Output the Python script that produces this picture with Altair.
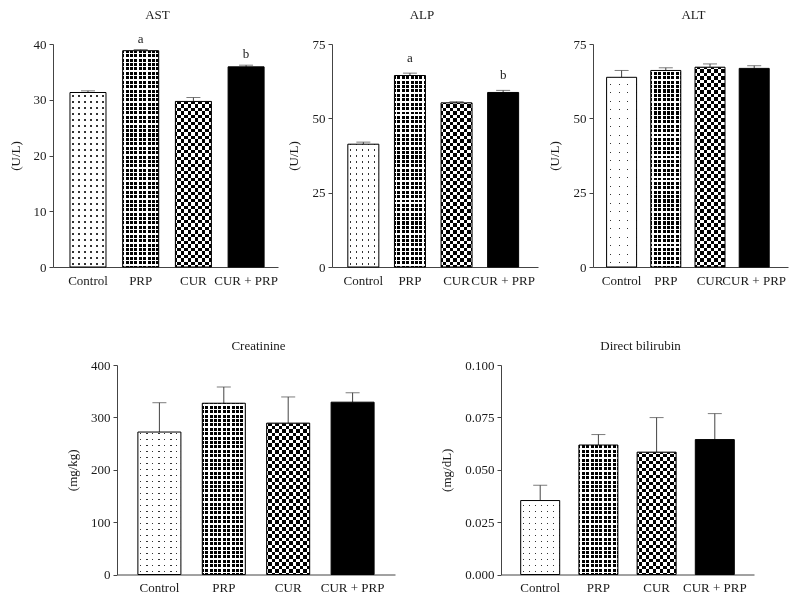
import altair as alt
import pandas as pd

# ---------------- data ----------------
groups = ["Control", "PRP", "CUR", "CUR + PRP"]

ast_mean = [31.3, 38.8, 29.7, 35.9]
ast_err = [0.3, 0.2, 0.7, 0.3]
ast_letters = ["", "a", "", "b"]

alp_mean = [41.3, 64.4, 55.2, 58.7]
alp_err = [0.7, 0.8, 0.4, 0.7]
alp_letters = ["", "a", "", "b"]

alt_mean = [63.8, 66.1, 67.2, 66.8]
alt_err = [2.3, 0.9, 1.1, 0.9]
alt_letters = ["", "", "", ""]

creat_mean = [272, 327, 289, 329]
creat_err = [56, 31, 50, 18]
creat_letters = ["", "", "", ""]

bili_mean = [0.0353, 0.0618, 0.0584, 0.0644]
bili_err = [0.0073, 0.0050, 0.0165, 0.0124]
bili_letters = ["", "", "", ""]

ast_ticks = [0, 10, 20, 30, 40]
alp_ticks = [0, 25, 50, 75]
alt_ticks = [0, 25, 50, 75]
creat_ticks = [0, 100, 200, 300, 400]
bili_ticks = [0, 0.025, 0.05, 0.075, 0.1]

# ---------------- style ----------------
FONT = "Liberation Serif"
TXT = "#1a1a1a"
AX = "#444444"
ERR = "#444444"
WHITE = "#ffffff"
BLACK = "#000000"
CLEAR = "rgba(255,255,255,0)"


def grad(length, period, on_w, on_col, off_col, along_x, from_end=False):
    ivs = []
    pos = 0.5 * (period - on_w)
    while pos < length:
        a = max(pos, 0.0)
        b = min(pos + on_w, length)
        if b > a:
            ivs.append((a, b))
        pos += period
    if from_end:
        ivs = sorted((length - b, length - a) for a, b in ivs)
    stops = [{"offset": 0, "color": off_col}]
    for a, b in ivs:
        a1 = round(a / length, 5)
        b1 = round(b / length, 5)
        stops += [
            {"offset": a1, "color": off_col},
            {"offset": a1, "color": on_col},
            {"offset": b1, "color": on_col},
            {"offset": b1, "color": off_col},
        ]
    stops.append({"offset": 1, "color": off_col})
    g = {"gradient": "linear", "stops": stops}
    if along_x:
        g.update(x1=0, y1=0, x2=1, y2=0)
    else:
        g.update(x1=0, y1=0, x2=0, y2=1)
    return g


def pattern(i, bw, h, dot):
    h = max(h, 1.0)
    if i == 0:  # sparse dots
        return [
            ("#333333", None),
            (grad(bw, dot, 1.2, CLEAR, WHITE, True), None),
            (grad(h, dot, 1.2, CLEAR, WHITE, False, True), None),
        ]
    if i == 1:  # dense grid: black squares, white lines
        return [
            (BLACK, None),
            (grad(bw, 4.4, 1.4, WHITE, CLEAR, True), None),
            (grad(h, 4.4, 1.4, WHITE, CLEAR, False, True), None),
        ]
    if i == 2:  # checkerboard
        return [
            (grad(bw, 7.0, 3.5, WHITE, BLACK, True), None),
            (grad(h, 7.0, 3.5, WHITE, BLACK, False, True), "difference"),
        ]
    return [(BLACK, None)]


ONE = pd.DataFrame({"v": [0]})


def panel(title, unit, means, errs, letters, ymax, ticks, fmt, W, H, bw, step,
          ext, letter_dy, title_dist, title_dx, dot=6.0, left_pad=None, align=0.5):
    n = len(groups)
    pi = 1 - bw / step
    po = (W / step - n + pi) / 2
    df = pd.DataFrame({
        "group": groups,
        "mean": means,
        "upper": [m + e for m, e in zip(means, errs)],
        "letter": letters,
    })
    xenc = alt.X(
        "group:N", sort=groups,
        scale=alt.Scale(paddingInner=pi, paddingOuter=po, align=align),
        axis=alt.Axis(title=None, labelAngle=0, ticks=False, labelPadding=17,
                      labelBaseline="alphabetic",
                      labelOverlap=False, domainColor=AX, domainWidth=1,
                      labelFont=FONT, labelFontSize=13, labelColor=TXT),
    )
    yscale = alt.Scale(domain=[0, ymax], nice=False, zero=True)
    yaxis = alt.Axis(title=unit, values=ticks, format=fmt, grid=False, tickSize=4,
                     tickColor=AX, domainColor=AX, domainWidth=1, labelPadding=3,
                     labelFont=FONT, labelFontSize=13, labelColor=TXT,
                     titleFont=FONT, titleFontSize=13, titleFontWeight="normal",
                     titleColor=TXT, titlePadding=0, minExtent=ext, maxExtent=ext)

    def Y(field):
        return alt.Y(field, scale=yscale, axis=yaxis)

    base = alt.Chart(df).encode(x=xenc)
    layers = [
        base.mark_rule(color=ERR, strokeWidth=1).encode(y=Y("mean:Q"), y2="upper:Q"),
        base.mark_tick(color=ERR, size=14, thickness=1).encode(y=Y("upper:Q")),
    ]
    for i, g in enumerate(groups):
        h = means[i] / ymax * H
        for fill, blend in pattern(i, bw, h, dot):
            kw = {"fill": fill}
            if blend:
                kw["blend"] = blend
            layers.append(
                base.transform_filter(alt.datum.group == g)
                .mark_bar(**kw)
                .encode(y=Y("mean:Q"))
            )
    layers.append(
        base.mark_bar(fillOpacity=0, stroke=BLACK, strokeWidth=1).encode(y=Y("mean:Q"))
    )
    layers.append(
        base.mark_text(font=FONT, fontSize=13, color=TXT, baseline="alphabetic",
                       dy=letter_dy).encode(y=Y("upper:Q"), text="letter:N")
    )
    # panel title as a single text mark above the plot area
    layers.append(
        alt.Chart(ONE).mark_text(font=FONT, fontSize=13, color=TXT,
                                 baseline="alphabetic", align="center").encode(
            x=alt.value(W / 2 + title_dx), y=alt.value(-title_dist),
            text=alt.value(title))
    )
    if left_pad is not None:
        layers.append(
            alt.Chart(ONE).mark_rule(color="transparent", strokeWidth=1).encode(
                x=alt.value(-left_pad), x2=alt.value(-left_pad + 1), y=alt.value(0))
        )
    return alt.layer(*layers).properties(width=W, height=H)


HT = 223
HB = 209.5

ast_p = panel("AST", "(U/L)", ast_mean, ast_err, ast_letters, 40, ast_ticks, "d",
              225, HT, 36, 52.7, 30.5, -7, 25, -8, align=0.55)
alp_p = panel("ALP", "(U/L)", alp_mean, alp_err, alp_letters, 75, alp_ticks, "d",
              206, HT, 31, 46.6, 31.5, -11, 25, -13, align=0.45)
alt_p = panel("ALT", "(U/L)", alt_mean, alt_err, alt_letters, 75, alt_ticks, "d",
              195, HT, 30, 44.2, 31.7, -7, 25, 3, dot=8.5, align=0.42)
creat_p = panel("Creatinine", "(mg/kg)", creat_mean, creat_err, creat_letters, 400,
                creat_ticks, "d", 278, HB, 43, 64.4, 38, -7, 14.8, 2.5)
bili_p = panel("Direct bilirubin", "(mg/dL)", bili_mean, bili_err, bili_letters, 0.1,
               bili_ticks, ".3f", 253, HB, 39, 58.2, 48, -7, 14.8, 13,
               left_pad=99.3)

SP_W = 6.4
spacer = alt.Chart(ONE).mark_rule(color="transparent").encode(
    x=alt.value(0), x2=alt.value(SP_W), y=alt.value(0)
).properties(width=SP_W, height=10)

top = alt.hconcat(ast_p, alp_p, alt_p, spacing=8)
bottom = alt.hconcat(spacer, creat_p, bili_p, spacing=4)

chart = alt.vconcat(top, bottom, spacing=51).properties(
    padding={"left": 1, "top": 0, "right": 0, "bottom": 0}
).configure_view(stroke="transparent")

chart.save("out.html", embed_options={"renderer": "svg", "actions": False})
